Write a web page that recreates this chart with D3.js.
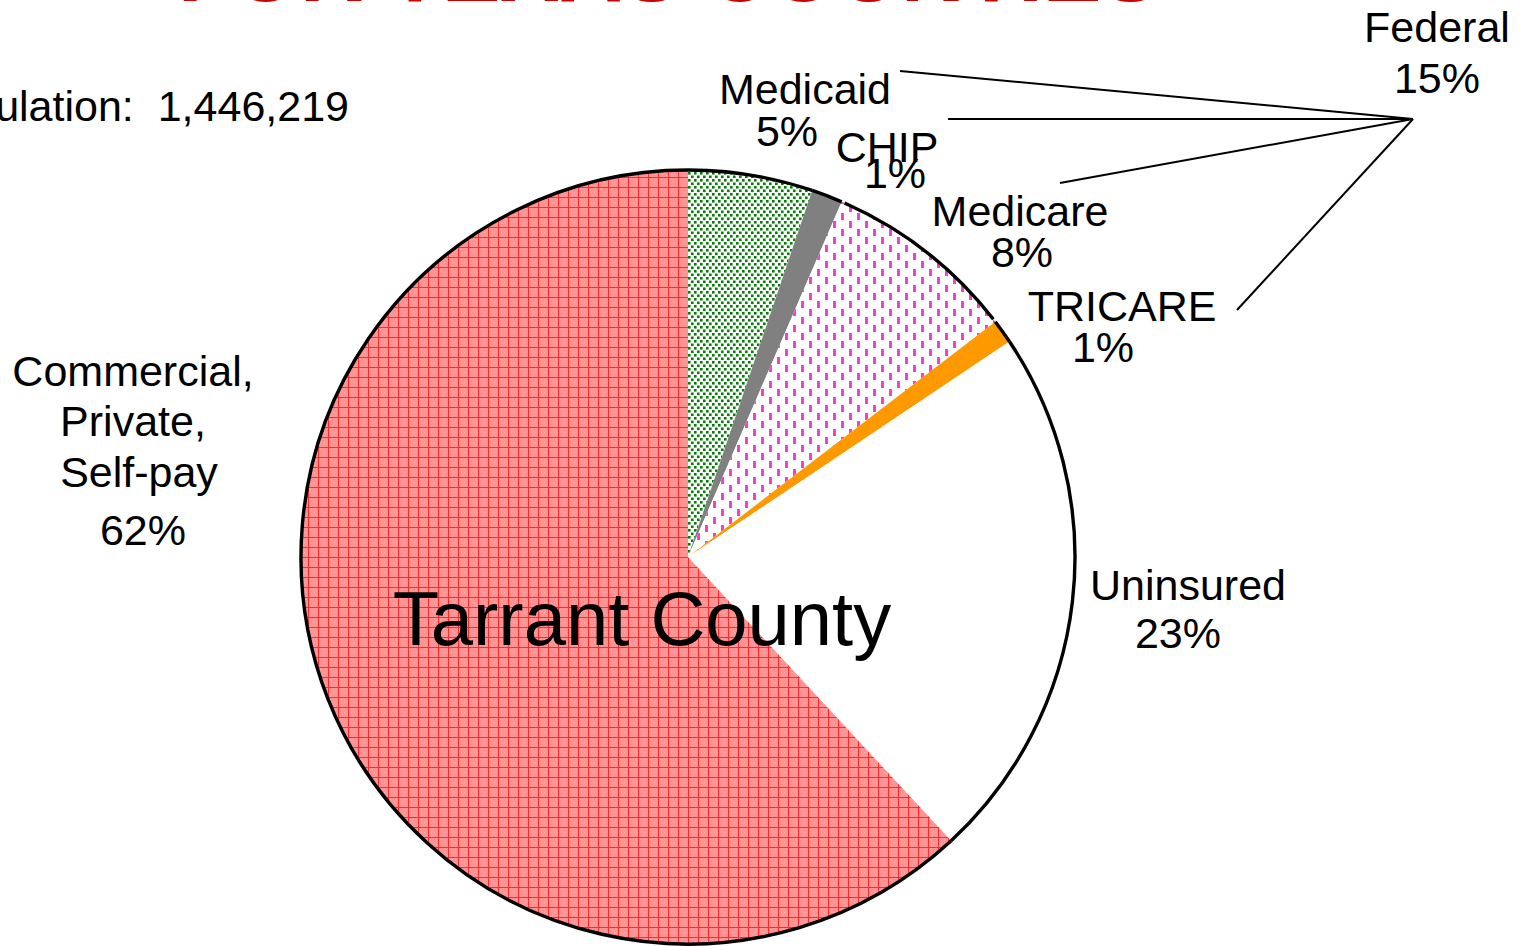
<!DOCTYPE html>
<html>
<head>
<meta charset="utf-8">
<script src="https://cdn.jsdelivr.net/npm/d3@7/dist/d3.min.js"></script>
<style>
  html, body { margin: 0; padding: 0; background: #fff; overflow: hidden; }
  svg { display: block; font-family: 'Liberation Sans', Arial, sans-serif; }
</style>
</head>
<body>
<svg id="chart"></svg>
<script>
// data (shares of population, %)
const categories = ['Medicaid', 'CHIP', 'Medicare', 'TRICARE', 'Uninsured', 'Commercial, Private, Self-pay'];
const shares = [5.2, 1.3, 8.1, 1.0, 22.5, 61.9];
const pctLabels = ['5%', '1%', '8%', '1%', '23%', '62%'];
const federalMembers = ['Medicaid', 'CHIP', 'Medicare', 'TRICARE'];
const federalLabel = ['Federal', '15%'];
const countyName = 'Tarrant County';
const populationText = 'Population:  1,446,219';
const titleText = 'FOR TEXAS COUNTIES';

const w = 1525;
const h = 946;
const cx = 688;
const cy = 557;
const r = 387;
const fs = 43;

const svg = d3.select('#chart').attr('width', w).attr('height', h);
const defs = svg.append('defs');

// --- fill patterns ---
const pRed = defs.append('pattern').attr('id', 'p-red')
  .attr('patternUnits', 'userSpaceOnUse').attr('width', 10).attr('height', 10);
pRed.append('rect').attr('width', 10).attr('height', 10).attr('fill', '#ff9393');
pRed.append('rect').attr('x', 2).attr('y', 2).attr('width', 1).attr('height', 1).attr('fill', '#ffb3b3');
pRed.append('rect').attr('x', 6).attr('y', 5).attr('width', 1).attr('height', 1).attr('fill', '#ffb3b3');
pRed.append('rect').attr('x', 0).attr('y', 0).attr('width', 10).attr('height', 1).attr('fill', '#ff2a2a');
pRed.append('rect').attr('x', 0).attr('y', 0).attr('width', 1).attr('height', 10).attr('fill', '#ff2a2a');

const pGreen = defs.append('pattern').attr('id', 'p-green')
  .attr('patternUnits', 'userSpaceOnUse').attr('width', 6).attr('height', 7);
pGreen.append('rect').attr('width', 6).attr('height', 7).attr('fill', '#fff');
pGreen.append('rect').attr('x', 0).attr('y', 0).attr('width', 2.6).attr('height', 2.6).attr('fill', '#087c08');
pGreen.append('rect').attr('x', 3).attr('y', 3.5).attr('width', 2.6).attr('height', 2.6).attr('fill', '#087c08');

const pPink = defs.append('pattern').attr('id', 'p-pink')
  .attr('patternUnits', 'userSpaceOnUse').attr('width', 16).attr('height', 16);
pPink.append('rect').attr('width', 16).attr('height', 16).attr('fill', '#fff');
pPink.append('rect').attr('x', 1).attr('y', 0).attr('width', 3).attr('height', 7).attr('fill', '#ff3cc8');
pPink.append('rect').attr('x', 9).attr('y', 8).attr('width', 3).attr('height', 7).attr('fill', '#ff3cc8');

const fills = ['url(#p-green)', '#808080', 'url(#p-pink)', '#ff9900', '#ffffff', 'url(#p-red)'];

// --- pie ---
const dataset = categories.map((c, i) => ({ name: c, value: shares[i], fill: fills[i] }));

const pie = d3.pie().sort(null).value((d) => d.value)
  .startAngle(0).endAngle(2 * Math.PI);
const arcs = pie(dataset);

const arc = d3.arc().innerRadius(0).outerRadius(r);

const g = svg.append('g').attr('transform', `translate(${cx},${cy})`);

g.selectAll('path.slice')
  .data(arcs)
  .enter()
  .append('path')
  .attr('class', 'slice')
  .attr('d', arc)
  .attr('fill', (d) => d.data.fill);

// outline on the rim only; the Medicare rim is a little shorter at both ends
const rimGap = { Medicare: 0.008 };
const rim = d3.arc().innerRadius(r).outerRadius(r);
g.selectAll('path.rim')
  .data(arcs)
  .enter()
  .append('path')
  .attr('class', 'rim')
  .attr('d', (d) => {
    const gap = rimGap[d.data.name] || 0;
    return rim({ startAngle: d.startAngle + gap, endAngle: d.endAngle - gap });
  })
  .attr('fill', 'none')
  .attr('stroke', '#000')
  .attr('stroke-width', 3.4);

// --- texts ---
svg.append('text')
  .attr('x', 178).attr('y', 1)
  .attr('textLength', 982).attr('lengthAdjust', 'spacingAndGlyphs')
  .attr('font-size', 88).attr('font-weight', 'bold').attr('fill', '#cc0000')
  .text(titleText);

svg.append('text')
  .attr('x', 349).attr('y', 121)
  .attr('text-anchor', 'end').attr('font-size', fs)
  .style('white-space', 'pre')
  .text(populationText);

svg.append('text')
  .attr('x', 642).attr('y', 645)
  .attr('text-anchor', 'middle').attr('font-size', 76)
  .text(countyName);

// label placement (positions of each text line: [x, baseline])
const labelPos = {
  Medicaid: [[805, 104], [787, 146]],
  CHIP: [[887, 162], [895, 188]],
  Medicare: [[1020, 226], [1022, 267]],
  TRICARE: [[1122, 321], [1103, 362]],
  Uninsured: [[1188, 600], [1178, 648]],
  'Commercial, Private, Self-pay': [[133, 386], [133, 436], [139, 487], [143, 545]]
};

const labelLines = (d, i) => {
  if (i === 5) return ['Commercial,', 'Private,', 'Self-pay', pctLabels[i]];
  return [d.name, pctLabels[i]];
};

dataset.forEach((d, i) => {
  const lines = labelLines(d, i);
  const pos = labelPos[d.name];
  lines.forEach((t, j) => {
    svg.append('text')
      .attr('x', pos[j][0]).attr('y', pos[j][1])
      .attr('text-anchor', 'middle').attr('font-size', fs)
      .text(t);
  });
});

svg.append('text').attr('x', 1437).attr('y', 42)
  .attr('text-anchor', 'middle').attr('font-size', fs).text(federalLabel[0]);
svg.append('text').attr('x', 1437).attr('y', 93)
  .attr('text-anchor', 'middle').attr('font-size', fs).text(federalLabel[1]);

// leader lines from the Federal label to its members
const hub = [1413, 119];
const leaderEnds = { Medicaid: [900, 71], CHIP: [948, 119], Medicare: [1060, 183], TRICARE: [1237, 310] };
svg.selectAll('line.leader')
  .data(federalMembers)
  .enter()
  .append('line')
  .attr('class', 'leader')
  .attr('x1', hub[0]).attr('y1', hub[1])
  .attr('x2', (d) => leaderEnds[d][0]).attr('y2', (d) => leaderEnds[d][1])
  .attr('stroke', '#000').attr('stroke-width', 2);
</script>
</body>
</html>
